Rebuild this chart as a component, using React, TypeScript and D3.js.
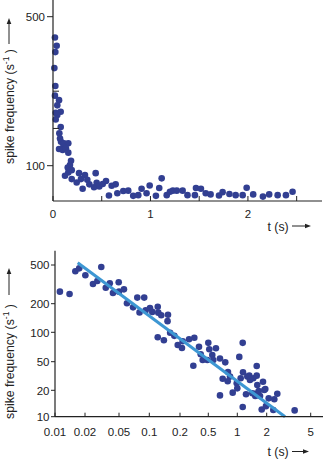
import React from "react";
import * as d3 from "d3";

// ---------- Top chart (linear) ----------
const topT = [0.02,0.038,0.024,0.014,0.024,0.02,0.062,0.044,0.079,0.028,0.044,0.028,0.079,0.065,0.072,0.082,0.113,0.157,0.062,0.106,0.099,0.133,0.157,0.185,0.174,0.151,0.192,0.157,0.123,0.192,0.267,0.243,0.287,0.328,0.304,0.352,0.373,0.421,0.438,0.448,0.475,0.51,0.544,0.574,0.602,0.643,0.66,0.721,0.772,0.823,0.875,0.909,0.96,0.992,1.056,1.09,1.115,1.167,1.2,1.23,1.27,1.33,1.38,1.456,1.467,1.518,1.567,1.617,1.703,1.74,1.81,1.874,1.946,1.987,2.054,2.154,2.218,2.305,2.39,2.458];
const topF = [444,422,405,362,314,288,276,262,245,242,236,224,204,187,173,164,160,160,145,151,142,147,135,113,102,95,88,82,73,64,80,55,64,75,38,62,50,42,80,54,44,51,59,20,46,50,26,32,33,19,21,38,26,47,19,40,66,21,30,33,33,33,21,21,40,38,26,23,20,29,24,21,21,41,23,17,23,21,21,30];
const topXTicks = [0, 0.5, 1, 1.5, 2, 2.5];
const topXLabels = [0, 1, 2];
const topYLabels = [100, 500];
const topYMinor = [200, 300];

// ---------- Bottom chart (log-log) ----------
const botT = [0.0112,0.014,0.016,0.0175,0.0202,0.0248,0.0279,0.031,0.035,0.039,0.0425,0.0496,0.05,0.056,0.06,0.069,0.076,0.08,0.089,0.092,0.1016,0.107,0.121,0.1225,0.131,0.1525,0.151,0.121,0.139,0.16,0.176,0.19,0.213,0.218,0.268,0.318,0.308,0.37,0.391,0.417,0.484,0.5,0.512,0.55,0.563,0.6,0.661,0.75,0.661,0.705,0.8,0.84,0.795,0.896,0.986,1.0,1.048,1.136,1.083,1.144,1.228,1.136,1.266,1.327,1.349,1.458,1.528,1.58,1.58,1.602,1.656,1.528,1.708,1.778,1.833,1.935,1.967,2.085,2.295,2.343,2.494,3.58,1.424,1.89];
const botF = [266,252,431,462,392,319,342,477,292,324,258,332,266,281,202,183,231,162,231,170,180,164,186,161,151,153,131,89,83,99,92,74,69,81,85,88,44,71,59.5,52,52,78,67,58.5,52,68.6,54,49,17.5,29,36,31,26.7,18.8,25,21.3,56,78,29.4,35.6,18,12.9,31,32,27.8,29.4,18.2,43.6,32,23.7,19.6,17.2,17.2,12.1,26.3,20.8,13.2,16.2,11.9,15.8,18.3,11.8,18.5,20.2];
const fitT = [0.0169, 2.93];
const fitF = [528, 10];
const botXTicks = [0.01, 0.02, 0.05, 0.1, 0.2, 0.5, 1, 2, 5];
const botXLabels = ["0.01", "0.02", "0.05", "0.1", "0.2", "0.5", "1", "2", "5"];
const botYTicks = [10, 20, 50, 100, 200, 500];

const DOT = "#323f92";
const LINE = "#3d97d3";
const INK = "#222";
const FONT = "'Liberation Sans', Arial, sans-serif";
const FS = 11.5;
const TFS = 12.3;

function UpArrow({ x, y1, y2 }: { x: number; y1: number; y2: number }) {
  return (
    <g>
      <line x1={x} x2={x} y1={y1} y2={y2 + 4} stroke={INK} strokeWidth={1} />
      <path d={`M${x},${y2} L${x - 2.3},${y2 + 6} L${x + 2.3},${y2 + 6} Z`} fill={INK} />
    </g>
  );
}
function RightArrow({ x1, x2, y }: { x1: number; x2: number; y: number }) {
  return (
    <g>
      <line x1={x1} x2={x2 - 4} y1={y} y2={y} stroke={INK} strokeWidth={1} />
      <path d={`M${x2},${y} L${x2 - 6},${y - 2.3} L${x2 - 6},${y + 2.3} Z`} fill={INK} />
    </g>
  );
}

function YTitle({ x, yStart, arrowFrom, arrowTo }: { x: number; yStart: number; arrowFrom: number; arrowTo: number }) {
  return (
    <g>
      <text transform={`translate(${x},${yStart}) rotate(-90)`} fontSize={TFS} fontFamily={FONT} fill={INK}>
        spike frequency (s
        <tspan fontSize={8.5} dy={-4.5}>-1</tspan>
        <tspan dy={4.5}> )</tspan>
      </text>
      <UpArrow x={x - 4.5} y1={arrowFrom} y2={arrowTo} />
    </g>
  );
}

export default function App() {
  // top scales
  const tx = d3.scaleLinear().domain([0, 2.76]).range([53, 322]);
  const ty = d3.scaleLinear().domain([100, 500]).range([165.7, 16.7]);
  const tAxisY = 201;
  const tAxisX = 53;

  // bottom scales (piecewise log, following the printed tick spacing)
  const bx = d3
    .scaleLog()
    .domain([0.01, 0.02, 0.05, 0.1, 0.2, 0.5, 1, 2, 5, 6.6])
    .range([55, 85, 119, 149.3, 180, 208.3, 237.3, 266.7, 310.7, 323]);
  const by = d3
    .scaleLog()
    .domain([10, 20, 50, 100, 200, 500, 700])
    .range([416.7, 390.3, 361.7, 332.3, 303.7, 265, 250.8]);
  const bAxisX = 55;
  const bAxisY = 416.7;

  const fitLine = d3
    .line<number>()
    .x((_, i) => bx(fitT[i]))
    .y((_, i) => by(fitF[i]));

  return (
    <svg
      width={325}
      height={459}
      style={{ position: "absolute", left: 0, top: 0, background: "#fff" }}
    >
      <rect width={325} height={459} fill="#fff" />
      {/* ---------- TOP ---------- */}
      <g>
        {topT.map((t, i) => (
          <circle key={i} cx={tx(t)} cy={ty(topF[i])} r={3.3} fill={DOT} />
        ))}
        <line x1={tAxisX} x2={tAxisX} y1={0} y2={tAxisY} stroke={INK} strokeWidth={1.2} />
        <line x1={tAxisX} x2={322} y1={tAxisY} y2={tAxisY} stroke={INK} strokeWidth={1.2} />
        {topXTicks.map((v) => (
          <line key={v} x1={tx(v)} x2={tx(v)} y1={tAxisY} y2={tAxisY - 5} stroke={INK} strokeWidth={1} />
        ))}
        {topXLabels.map((v) => (
          <text key={v} x={tx(v)} y={218} textAnchor="middle" fontSize={FS} fontFamily={FONT} fill={INK}>
            {v}
          </text>
        ))}
        {topYLabels.map((v) => (
          <g key={v}>
            <line x1={tAxisX - 6} x2={tAxisX} y1={ty(v)} y2={ty(v)} stroke={INK} strokeWidth={1} />
            <text x={tAxisX - 8} y={ty(v) + 4.2} textAnchor="end" fontSize={FS} fontFamily={FONT} fill={INK}>
              {v}
            </text>
          </g>
        ))}
        {topYMinor.map((v) => (
          <line key={v} x1={tAxisX} x2={tAxisX + 6} y1={ty(v)} y2={ty(v)} stroke={INK} strokeWidth={1} />
        ))}
        <text x={267.5} y={230.5} fontSize={TFS} fontFamily={FONT} fill={INK}>t (s)</text>
        <RightArrow x1={292} x2={311} y={226} />
        <YTitle x={13.5} yStart={164} arrowFrom={44} arrowTo={18} />
      </g>

      {/* ---------- BOTTOM ---------- */}
      <g>
        {botT.map((t, i) => (
          <circle key={i} cx={bx(t)} cy={by(botF[i])} r={3.3} fill={DOT} />
        ))}
        <path d={fitLine(fitT) || ""} stroke={LINE} strokeWidth={3} fill="none" />
        <line x1={bAxisX} x2={bAxisX} y1={250.8} y2={bAxisY} stroke={INK} strokeWidth={1.2} />
        <line x1={bAxisX} x2={323} y1={bAxisY} y2={bAxisY} stroke={INK} strokeWidth={1.2} />
        {botXTicks.map((v, i) => (
          <g key={v}>
            <line x1={bx(v)} x2={bx(v)} y1={bAxisY} y2={bAxisY - 4} stroke={INK} strokeWidth={1} />
            <text x={bx(v)} y={436} textAnchor="middle" fontSize={FS} fontFamily={FONT} fill={INK}>
              {botXLabels[i]}
            </text>
          </g>
        ))}
        {botYTicks.map((v) => (
          <g key={v}>
            <line x1={bAxisX - 4} x2={bAxisX} y1={by(v)} y2={by(v)} stroke={INK} strokeWidth={1} />
            <text x={bAxisX - 5.5} y={by(v) + 4.2} textAnchor="end" fontSize={FS} fontFamily={FONT} fill={INK}>
              {v}
            </text>
          </g>
        ))}
        <text x={267.5} y={456} fontSize={TFS} fontFamily={FONT} fill={INK}>t (s)</text>
        <RightArrow x1={292} x2={309} y={451.5} />
        <YTitle x={13.5} yStart={419} arrowFrom={295} arrowTo={268} />
      </g>
    </svg>
  );
}
